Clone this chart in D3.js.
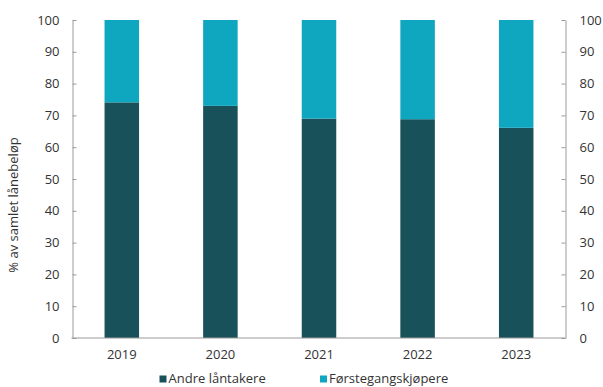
<!DOCTYPE html>
<html>
<head>
<meta charset="utf-8">
<script src="https://cdn.jsdelivr.net/npm/d3@7"></script>
<style>
  html, body { margin: 0; padding: 0; background: #fff; }
  svg { display: block; font-family: "Open Sans", "Noto Sans", sans-serif; font-stretch: 100%; }
  .axis text { fill: #333; font-size: 13px; font-family: "Open Sans", "Noto Sans", sans-serif; font-stretch: 100%; }
  .axis path, .axis line { stroke: #9a9a9a; }
</style>
</head>
<body>
<svg id="chart" width="603" height="387"></svg>
<script>
// Share of total loan amount, by borrower type (per cent)
const years = ["2019", "2020", "2021", "2022", "2023"];
const andreLantakere = [74.1, 73.0, 69.0, 68.8, 66.1];
const forstegangskjopere = [25.9, 27.0, 31.0, 31.2, 33.9];
const seriesNames = ["Andre låntakere", "Førstegangskjøpere"];
const seriesColors = ["#18515a", "#0fa7c0"];
const yTicks = [0, 10, 20, 30, 40, 50, 60, 70, 80, 90, 100];

const svg = d3.select("#chart");
const margin = { left: 72.5, right: 37.5, top: 20, bottom: 49 };
const W = 603, H = 387;

const x = d3.scaleBand()
  .domain(years)
  .range([margin.left, W - margin.right])
  .paddingInner(0.65)
  .paddingOuter(0.325);

const y = d3.scaleLinear()
  .domain([0, 100])
  .range([H - margin.bottom, margin.top]);

const rows = years.map((yr, i) => ({
  year: yr,
  [seriesNames[0]]: andreLantakere[i],
  [seriesNames[1]]: forstegangskjopere[i]
}));
const stacked = d3.stack().keys(seriesNames)(rows);

svg.append("g")
  .selectAll("g")
  .data(stacked)
  .join("g")
  .attr("fill", (d, i) => seriesColors[i])
  .selectAll("rect")
  .data(d => d)
  .join("rect")
  .attr("x", d => x(d.data.year))
  .attr("width", x.bandwidth())
  .attr("y", d => y(d[1]))
  .attr("height", d => y(d[0]) - y(d[1]));

// Left axis, ticks pointing into the plot
const yLeft = svg.append("g")
  .attr("class", "axis")
  .attr("transform", `translate(${margin.left},0)`)
  .call(d3.axisLeft(y).tickValues(yTicks).tickSize(0).tickPadding(13));
yLeft.selectAll(".tick line").attr("x2", 4);

// Right axis, ticks pointing into the plot
const yRight = svg.append("g")
  .attr("class", "axis")
  .attr("transform", `translate(${W - margin.right},0)`)
  .call(d3.axisRight(y).tickValues(yTicks).tickSize(0).tickPadding(14));
yRight.selectAll(".tick line").attr("x2", -4);

// Category axis
const xAxis = svg.append("g")
  .attr("class", "axis")
  .attr("transform", `translate(0,${H - margin.bottom})`)
  .call(d3.axisBottom(x).tickSize(0).tickPadding(12).tickSizeOuter(0));
xAxis.select(".domain").attr("d", `M${margin.left - 1},0H${W - margin.right}`);

// Axis title
svg.append("text")
  .attr("transform", `translate(18,${(y(0) + y(100)) / 2 + 26}) rotate(-90)`)
  .attr("text-anchor", "middle")
  .attr("fill", "#333")
  .style("font-size", "13px")
  .text("% av samlet lånebeløp");

// Legend
const legendX = [159.5, 320];
const legend = svg.append("g");
seriesNames.forEach((name, i) => {
  legend.append("rect")
    .attr("x", legendX[i])
    .attr("y", 375.5)
    .attr("width", 7)
    .attr("height", 7)
    .attr("fill", seriesColors[i]);
  legend.append("text")
    .attr("x", legendX[i] + 9)
    .attr("y", 382.5)
    .attr("fill", "#333")
    .style("font-size", "13px")
    .text(name);
});
</script>
</body>
</html>
